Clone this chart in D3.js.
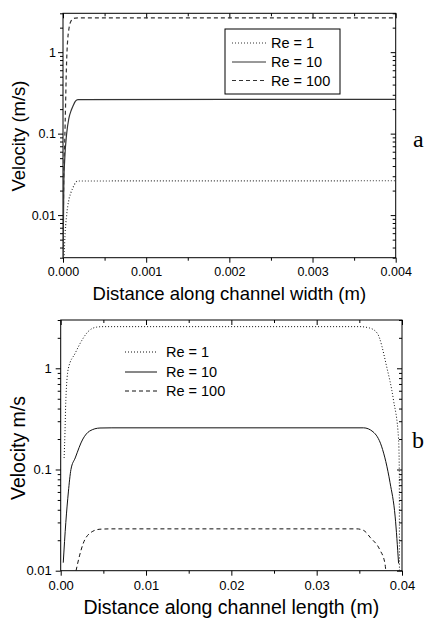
<!DOCTYPE html>
<html><head><meta charset="utf-8">
<script src="https://cdn.jsdelivr.net/npm/d3@7"></script>
<style>body{margin:0;background:#fff} svg{display:block}</style>
</head><body>
<svg id="c" width="433" height="623"></svg>
<script>
// ---------- shared ----------
const seriesNames = ["Re = 1", "Re = 10", "Re = 100"];
const velTicks = [0.01, 0.1, 1];
const velTickLabels = ["0.01", "0.1", "1"];

// ---------- panel a : distance along channel width ----------
const widthTicks = [0, 0.001, 0.002, 0.003, 0.004];
const widthTickLabels = ["0.000", "0.001", "0.002", "0.003", "0.004"];
const widthMinorTicks = [0.0005, 0.0015, 0.0025, 0.0035];
const widthX     = [0.0000012, 0.00001, 0.00002, 0.000044, 0.00007, 0.0001, 0.00012, 0.00015, 0.00018, 0.004];
const widthRe1   = [0.0003, 0.0025, 0.0047, 0.01, 0.0153, 0.0195, 0.0218, 0.025, 0.0262, 0.0264];
const widthRe10  = [0.003, 0.025, 0.047, 0.1, 0.153, 0.195, 0.218, 0.25, 0.262, 0.264];
const widthRe100 = [0.004, 0.035, 0.075, 0.8, 1.9, 2.45, 2.57, 2.62, 2.64, 2.64];

// ---------- panel b : distance along channel length ----------
const lengthTicks = [0, 0.01, 0.02, 0.03, 0.04];
const lengthTickLabels = ["0.00", "0.01", "0.02", "0.03", "0.04"];
const lengthMinorTicks = [0.005, 0.015, 0.025, 0.035];
const lenRe1X   = [0.0004, 0.0005, 0.0006, 0.0009, 0.0017, 0.0025, 0.0032, 0.0042, 0.005, 0.035, 0.0362, 0.0371, 0.0382, 0.039, 0.0396, 0.03968, 0.0397];
const lenRe1V   = [0.13, 0.23, 0.48, 1.0, 1.41, 1.9, 2.3, 2.55, 2.58, 2.58, 2.5, 2.22, 1.04, 0.486, 0.198, 0.1, 0.01];
const lenRe10X  = [0.0003, 0.0006, 0.0009, 0.0012, 0.0017, 0.0026, 0.0034, 0.0046, 0.006, 0.0355, 0.0366, 0.0376, 0.0386, 0.0392, 0.0396];
const lenRe10V  = [0.012, 0.03, 0.06, 0.1, 0.13, 0.2, 0.24, 0.257, 0.258, 0.258, 0.236, 0.17, 0.074, 0.034, 0.0118];
const lenRe100X = [0.0018, 0.0022, 0.00265, 0.0034, 0.0046, 0.006, 0.0347, 0.0355, 0.0363, 0.0374, 0.038, 0.0381];
const lenRe100V = [0.01, 0.014, 0.0187, 0.0234, 0.0257, 0.0259, 0.0259, 0.025, 0.0212, 0.0161, 0.0118, 0.01];

const dashStyles = ["1,2", null, "4,3"];
const FONT = "'Liberation Sans', Arial, sans-serif";
const svg = d3.select("#c");

function zip(xs, vs) { return xs.map((x, i) => ({x, v: vs[i]})); }

function drawPanel(o) {
  const g = svg.append("g");
  const x = d3.scaleLinear().domain(o.xDomain).range([o.L, o.R]);
  const y = d3.scaleLog().domain(o.yDomain).range([o.B, o.T]);
  const minorY = y.ticks().filter(d => !o.yTicks.some(t => Math.abs(t - d) < 1e-12));

  const styleAxis = sel => {
    sel.select(".domain").remove();
    sel.selectAll("line").attr("stroke", "#000").attr("stroke-width", 1);
    sel.selectAll("text").attr("font-family", FONT).attr("font-size", o.tickFont).attr("fill", "#000");
  };
  // bottom
  g.append("g").attr("transform", `translate(0,${o.B})`)
    .call(d3.axisBottom(x).tickValues(o.xTicks).tickFormat((d, i) => o.xLabels[i]).tickSize(5).tickPadding(o.xPad)).call(styleAxis);
  g.append("g").attr("transform", `translate(0,${o.B})`)
    .call(d3.axisBottom(x).tickValues(o.xMinor).tickFormat("").tickSize(3)).call(styleAxis);
  // top (inward)
  g.append("g").attr("transform", `translate(0,${o.T})`)
    .call(d3.axisTop(x).tickValues(o.xTicks).tickFormat("").tickSize(-5)).call(styleAxis);
  g.append("g").attr("transform", `translate(0,${o.T})`)
    .call(d3.axisTop(x).tickValues(o.xMinor).tickFormat("").tickSize(-3)).call(styleAxis);
  // left
  g.append("g").attr("transform", `translate(${o.L},0)`)
    .call(d3.axisLeft(y).tickValues(o.yTicks).tickFormat((d, i) => o.yLabels[i]).tickSize(5).tickPadding(o.yPad)).call(styleAxis);
  g.append("g").attr("transform", `translate(${o.L},0)`)
    .call(d3.axisLeft(y).tickValues(minorY).tickFormat("").tickSize(3)).call(styleAxis);
  // right (inward)
  g.append("g").attr("transform", `translate(${o.R},0)`)
    .call(d3.axisRight(y).tickValues(o.yTicks).tickFormat("").tickSize(-5)).call(styleAxis);
  g.append("g").attr("transform", `translate(${o.R},0)`)
    .call(d3.axisRight(y).tickValues(minorY).tickFormat("").tickSize(-3)).call(styleAxis);

  // frame
  g.append("rect").attr("x", o.L).attr("y", o.T).attr("width", o.R - o.L).attr("height", o.B - o.T)
    .attr("fill", "none").attr("stroke", "#000").attr("stroke-width", 1);

  const clipId = "clip" + o.id;
  svg.append("clipPath").attr("id", clipId).append("rect")
    .attr("x", o.L).attr("y", o.T).attr("width", o.R - o.L).attr("height", o.B - o.T);

  const line = d3.line().x(d => x(d.x)).y(d => y(d.v)).curve(d3.curveMonotoneX);
  o.series.forEach((s, i) => {
    g.append("path").datum(s).attr("clip-path", `url(#${clipId})`)
      .attr("d", line).attr("fill", "none").attr("stroke", o.lineColor).attr("stroke-width", o.lineWidth)
      .attr("stroke-dasharray", dashStyles[i]);
  });

  // axis titles
  g.append("text").attr("x", (o.L + o.R) / 2).attr("y", o.xTitleY).attr("text-anchor", "middle")
    .attr("font-family", FONT).attr("font-size", o.titleFont).text(o.xTitle);
  g.append("text").attr("transform", `translate(${o.yTitleX},${o.yTitleC}) rotate(-90)`).attr("text-anchor", "middle")
    .attr("font-family", FONT).attr("font-size", o.titleFont).text(o.yTitle);

  // legend
  const lg = g.append("g");
  if (o.legendBox) {
    lg.append("rect").attr("x", o.legendBox[0]).attr("y", o.legendBox[1]).attr("width", o.legendBox[2]).attr("height", o.legendBox[3])
      .attr("fill", "#fff").attr("stroke", "#000").attr("stroke-width", 1);
  }
  seriesNames.forEach((n, i) => {
    const yy = o.legendY[i];
    lg.append("line").attr("x1", o.legendX[0]).attr("x2", o.legendX[1]).attr("y1", yy).attr("y2", yy)
      .attr("stroke", o.lineColor).attr("stroke-width", 1).attr("stroke-dasharray", dashStyles[i]);
    lg.append("text").attr("x", o.legendX[2]).attr("y", yy).attr("dy", "0.35em")
      .attr("font-family", FONT).attr("font-size", o.legendFont).text(n);
  });

  // panel letter
  g.append("text").attr("x", o.letterX).attr("y", o.letterY).attr("font-family", "'Liberation Serif', 'Times New Roman', serif")
    .attr("font-size", 24).text(o.letter);
}

drawPanel({
  id: "a", L: 63, R: 395.7, T: 13.3, B: 257.7,
  xDomain: [0, 0.004], yDomain: [0.003, 3],
  xTicks: widthTicks, xLabels: widthTickLabels, xMinor: widthMinorTicks,
  yTicks: velTicks, yLabels: velTickLabels,
  tickFont: 12.5, xPad: 4.4, yPad: 2,
  series: [zip(widthX, widthRe1), zip(widthX, widthRe10), zip(widthX, widthRe100)],
  lineColor: "#333", lineWidth: 1.2,
  xTitle: "Distance along channel width (m)", xTitleY: 300, yTitle: "Velocity (m/s)", yTitleX: 25, yTitleC: 136,
  titleFont: 18.5,
  legendBox: [225, 29, 115, 65], legendX: [232, 266, 271], legendY: [43, 62, 80.5], legendFont: 14.5,
  letter: "a", letterX: 413, letterY: 147
});

drawPanel({
  id: "b", L: 60.7, R: 402, T: 320, B: 570.7,
  xDomain: [0, 0.04], yDomain: [0.01, 3],
  xTicks: lengthTicks, xLabels: lengthTickLabels, xMinor: lengthMinorTicks,
  yTicks: velTicks, yLabels: velTickLabels,
  tickFont: 13, xPad: 5.5, yPad: 4,
  series: [zip(lenRe1X, lenRe1V), zip(lenRe10X, lenRe10V), zip(lenRe100X, lenRe100V)],
  lineColor: "#111", lineWidth: 1,
  xTitle: "Distance along channel length (m)", xTitleY: 613.5, yTitle: "Velocity m/s", yTitleX: 25, yTitleC: 448,
  titleFont: 19.5,
  legendBox: null, legendX: [125, 157, 166], legendY: [352, 372, 391], legendFont: 14.5,
  letter: "b", letterX: 412, letterY: 448
});
</script>
</body></html>
